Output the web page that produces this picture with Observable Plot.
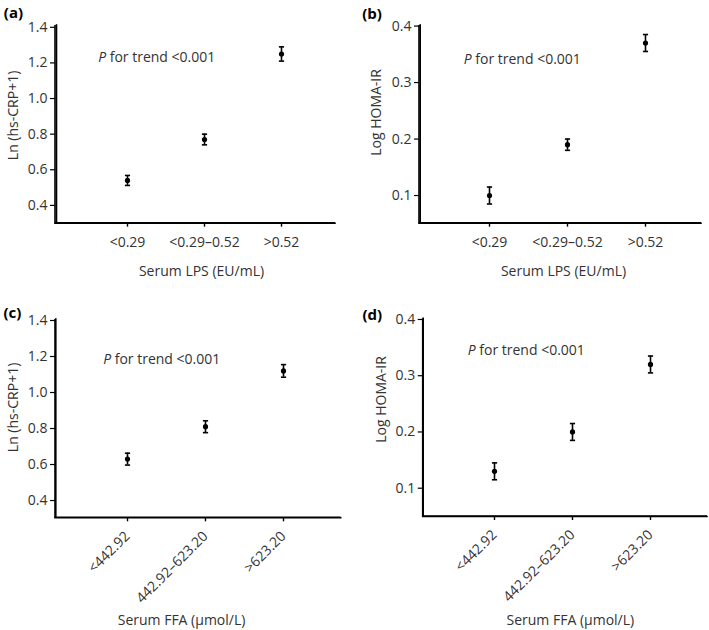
<!DOCTYPE html>
<html><head><meta charset="utf-8">
<script src="https://cdn.jsdelivr.net/npm/d3@7"></script>
<script src="https://cdn.jsdelivr.net/npm/@observablehq/plot@0.6"></script>
<style>
body{margin:0;background:#fff;}
#chart{position:relative;width:709px;height:630px;background:#fff;overflow:hidden;}
#chart svg{position:absolute;}
</style></head><body><div id="chart"></div>
<script>
// ---- data ----
const lpsCategories = ["<0.29", "<0.29\u20130.52", ">0.52"];
const ffaCategories = ["<442.92", "442.92\u2013623.20", ">623.20"];

const crpByLps = [0.54, 0.77, 1.25];
const crpByLpsErr = [0.028, 0.03, 0.04];
const homaByLps = [0.10, 0.19, 0.37];
const homaByLpsErr = [0.015, 0.01, 0.015];
const crpByFfa = [0.63, 0.81, 1.12];
const crpByFfaErr = [0.033, 0.033, 0.035];
const homaByFfa = [0.13, 0.20, 0.32];
const homaByFfaErr = [0.015, 0.015, 0.015];

const crpTicks = [0.4, 0.6, 0.8, 1.0, 1.2, 1.4];
const homaTicks = [0.1, 0.2, 0.3, 0.4];

const panelLabels = ["(a)", "(b)", "(c)", "(d)"];
const trendText = "for trend <0.001";
const crpTitle = "Ln (hs-CRP+1)";
const homaTitle = "Log HOMA-IR";
const lpsTitle = "Serum LPS (EU/mL)";
const ffaTitle = "Serum FFA (\u03bcmol/L)";

// ---- layout ----
const panels = [
  {label: panelLabels[0], left: 0, top: 0, width: 354, height: 300,
   mL: 55, mT: 25, mR: 19, mB: 77.3, cats: lpsCategories, values: crpByLps, errors: crpByLpsErr,
   ticks: crpTicks, yDomain: [0.3, 1.41], xRange: [126, 281.7], yTitle: crpTitle, xTitle: lpsTitle, rotate: false,
   lab: [-51.7, -8], p: [42.7, 36.7], yt: [-38, -8.9], xt: [6, 52.3]},
  {label: panelLabels[1], left: 354, top: 0, width: 355, height: 300,
   mL: 65, mT: 25, mR: 8, mB: 77.3, cats: lpsCategories, values: homaByLps, errors: homaByLpsErr,
   ticks: homaTicks, yDomain: [0.051, 0.401], xRange: [134.3, 290.7], yTitle: homaTitle, xTitle: lpsTitle, rotate: false,
   lab: [-57.3, -6.7], p: [44.3, 38.3], yt: [-39, -11.9], xt: [3, 52.3]},
  {label: panelLabels[2], left: 0, top: 300, width: 354, height: 330,
   mL: 55, mT: 19, mR: 13.3, mB: 112.7, cats: ffaCategories, values: crpByFfa, errors: crpByFfaErr,
   ticks: crpTicks, yDomain: [0.304, 1.4056], xRange: [126.7, 283], yTitle: crpTitle, xTitle: ffaTitle, rotate: true,
   lab: [-52, -2], p: [47.7, 44.3], yt: [-38, -11.2], xt: [-16.8, 107.2]},
  {label: panelLabels[3], left: 354, top: 300, width: 355, height: 330,
   mL: 68.7, mT: 18.3, mR: 2, mB: 114, cats: ffaCategories, values: homaByFfa, errors: homaByFfaErr,
   ticks: homaTicks, yDomain: [0.0497, 0.4012], xRange: [140, 296], yTitle: homaTitle, xTitle: ffaTitle, rotate: true,
   lab: [-60.7, 0.7], p: [44.6, 35.7], yt: [-37.7, -18.2], xt: [5, 108.5]}
];

const capSymbol = {draw(ctx) { ctx.moveTo(-2.6, 0); ctx.lineTo(2.6, 0); }};
const textColor = "#333";

const chart = document.getElementById("chart");
for (const P of panels) {
  const rows = P.cats.map((c, i) => ({cat: c, v: P.values[i], e: P.errors[i]}));
  const svg = Plot.plot({
    width: P.width, height: P.height,
    marginLeft: P.mL, marginTop: P.mT, marginRight: P.mR, marginBottom: P.mB,
    style: {fontFamily: "'Open Sans', sans-serif", fontSize: "14px", color: textColor, background: "transparent", overflow: "visible"},
    x: {type: "point", domain: P.cats, range: P.xRange, padding: 0, align: 0.5, axis: null},
    y: {domain: P.yDomain, axis: null},
    marks: [
      Plot.axisY({ticks: P.ticks, tickFormat: d => d.toFixed(1), tickSize: 5, tickPadding: 3, stroke: "#000", strokeWidth: 1.2, fill: textColor, fontSize: 14, label: null}),
      P.rotate
        ? Plot.axisX({tickSize: 4, tickPadding: 12, tickRotate: -45, stroke: "#000", strokeWidth: 1.4, fill: textColor, fontSize: 14, label: null})
        : Plot.axisX({tickSize: 4, tickPadding: 10, stroke: "#000", strokeWidth: 1.4, fill: textColor, fontSize: 14, label: null}),
      Plot.ruleX(rows, {x: "cat", y1: d => d.v - d.e, y2: d => d.v + d.e, stroke: "#000", strokeWidth: 1.6}),
      Plot.dot(rows, {x: "cat", y: d => d.v + d.e, symbol: capSymbol, stroke: "#000", strokeWidth: 1.6, r: 3}),
      Plot.dot(rows, {x: "cat", y: d => d.v - d.e, symbol: capSymbol, stroke: "#000", strokeWidth: 1.6, r: 3}),
      Plot.dot(rows, {x: "cat", y: "v", r: 2.6, fill: "#000", stroke: null}),
      Plot.text([P.label], {frameAnchor: "top-left", textAnchor: "start", lineAnchor: "bottom", dx: P.lab[0], dy: P.lab[1], fontWeight: "bold", fontSize: 15, fill: "#000"}),
      Plot.text(["P"], {frameAnchor: "top-left", textAnchor: "start", lineAnchor: "bottom", dx: P.p[0], dy: P.p[1], fontStyle: "italic", fontSize: 14, fill: textColor}),
      Plot.text([trendText], {frameAnchor: "top-left", textAnchor: "start", lineAnchor: "bottom", dx: P.p[0] + 11.5, dy: P.p[1], fontSize: 14, fill: textColor}),
      Plot.text([P.yTitle], {frameAnchor: "left", rotate: -90, textAnchor: "middle", lineAnchor: "bottom", dx: P.yt[0], dy: P.yt[1], fontSize: 14, fill: textColor}),
      Plot.text([P.xTitle], {frameAnchor: "bottom", textAnchor: "middle", lineAnchor: "bottom", dx: P.xt[0], dy: P.xt[1], fontSize: 14, fill: textColor}),
      Plot.ruleY([P.yDomain[0]], {stroke: "#000", strokeWidth: 1.6, strokeLinecap: "square"}),
      Plot.ruleX([P.cats[0]], {stroke: "#000", strokeWidth: 1.6, dx: P.mL - P.xRange[0], strokeLinecap: "square"})
    ]
  });
  // redundant L-shaped axis line along the left and bottom edges of the frame
  const x0 = P.mL, x1 = P.width - P.mR, y0 = P.mT, y1 = P.height - P.mB;
  const axisPath = document.createElementNS("http://www.w3.org/2000/svg", "path");
  axisPath.setAttribute("d", `M${x0},${y0}V${y1}H${x1}`);
  axisPath.setAttribute("fill", "none");
  axisPath.setAttribute("stroke", "#000");
  axisPath.setAttribute("stroke-width", "1.6");
  svg.appendChild(axisPath);
  svg.style.left = P.left + "px";
  svg.style.top = P.top + "px";
  chart.appendChild(svg);
}
</script></body></html>
